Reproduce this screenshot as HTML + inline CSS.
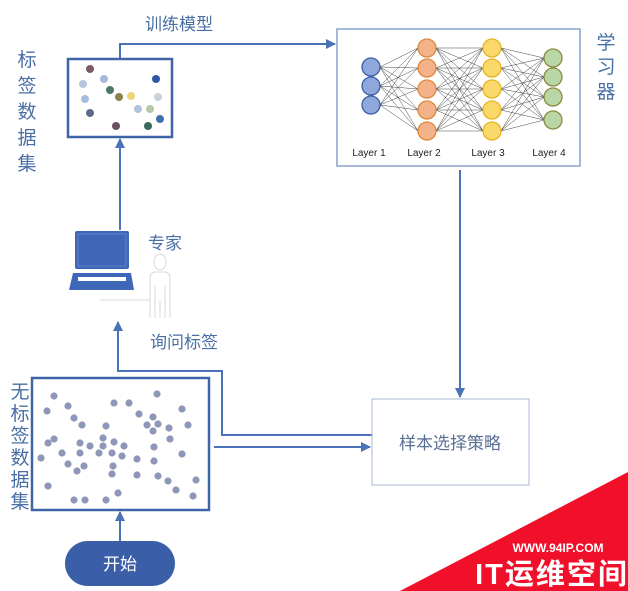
<!DOCTYPE html>
<html><head><meta charset="utf-8"><style>
html,body{margin:0;padding:0;background:#fff;}
svg{display:block;}
text{font-family:"Liberation Sans","Noto Sans CJK SC",sans-serif;}
</style></head><body>
<svg id="s" width="628" height="591" viewBox="0 0 628 591" xmlns="http://www.w3.org/2000/svg">
<defs>
<marker id="ah" markerWidth="10" markerHeight="10" refX="9" refY="5" orient="auto" markerUnits="userSpaceOnUse"><path d="M0,0 L10,5 L0,10 z" fill="#4a72b8"/></marker>
<marker id="sa" markerWidth="8" markerHeight="8" refX="8" refY="4" orient="auto" markerUnits="userSpaceOnUse"><path d="M0,1 L8,4 L0,7 z" fill="#333"/></marker>
</defs>
<g stroke="#4a72b8" stroke-width="2" fill="none">
<polyline points="120,58 120,44 335,44" marker-end="url(#ah)"/>
<line x1="120" y1="230" x2="120" y2="139" marker-end="url(#ah)"/>
<line x1="460" y1="170" x2="460" y2="397" marker-end="url(#ah)"/>
<line x1="214" y1="447" x2="370" y2="447" marker-end="url(#ah)"/>
<polyline points="372,435 222,435 222,371 118,371 118,322" marker-end="url(#ah)"/>
<line x1="120" y1="541" x2="120" y2="512" marker-end="url(#ah)"/>
</g>
<rect x="68" y="59" width="104" height="78" fill="#fff" stroke="#3f64a8" stroke-width="2.5"/>
<rect x="337" y="29" width="243" height="137" fill="#fff" stroke="#8aa2cc" stroke-width="1.5"/>
<rect x="372" y="399" width="157" height="86" fill="#fff" stroke="#a9b8d6" stroke-width="1"/>
<rect x="32" y="378" width="177" height="132" fill="#fff" stroke="#3f64a8" stroke-width="2.5"/>
<g id="net"></g>
<g id="dots" fill="#8e97b8"></g>
<g id="ld"></g>
<text x="145" y="30" font-size="17" fill="#4a6fa5">训练模型</text>
<g font-size="19" fill="#4a6fa5" text-anchor="middle">
<text x="27" y="66">标</text><text x="27" y="92">签</text><text x="27" y="118">数</text><text x="27" y="144">据</text><text x="27" y="170">集</text>
<text x="606" y="49">学</text><text x="606" y="73">习</text><text x="606" y="98">器</text>
<text x="20" y="398">无</text><text x="20" y="420">标</text><text x="20" y="442">签</text><text x="20" y="464">数</text><text x="20" y="486">据</text><text x="20" y="508">集</text>
</g>
<text x="148" y="249" font-size="17" fill="#4a6fa5">专家</text>
<text x="150" y="348" font-size="17" fill="#4a6fa5">询问标签</text>
<text x="450" y="449" font-size="17" fill="#5a6f95" text-anchor="middle">样本选择策略</text>
<g font-size="10" fill="#222" text-anchor="middle">
<text x="369" y="156">Layer 1</text><text x="424" y="156">Layer 2</text><text x="488" y="156">Layer 3</text><text x="549" y="156">Layer 4</text>
</g>
<!-- laptop -->
<rect x="75" y="231" width="54" height="38" rx="2" fill="#3f67b8"/>
<rect x="78" y="234" width="48" height="32" fill="none" stroke="#6a8ad0" stroke-width="0.8"/>
<path d="M73,273 L131,273 L134,290 L69,290 z" fill="#3f67b8"/>
<rect x="78" y="277" width="48" height="4" fill="#fff"/>
<line x1="100" y1="300" x2="150" y2="300" stroke="#ddd" stroke-width="1"/>
<!-- person -->
<g fill="none" stroke="#d8d8d8" stroke-width="1">
<ellipse cx="160" cy="262" rx="6" ry="8"/>
<path d="M150,318 L150,278 Q150,272 156,272 L164,272 Q170,272 170,278 L170,318"/>
<line x1="155" y1="285" x2="155" y2="318"/><line x1="165" y1="285" x2="165" y2="318"/><line x1="160" y1="300" x2="160" y2="318"/>
</g>
<rect x="65" y="541" width="110" height="45" rx="22.5" fill="#3a5fa8"/>
<text x="120" y="570" font-size="17" fill="#fff" text-anchor="middle">开始</text>
<!-- watermark -->
<polygon points="400,591 628,472 628,591" fill="#f0102a"/>
<text x="558" y="552" font-size="12" font-weight="bold" fill="#fff" text-anchor="middle" font-family="Liberation Serif">WWW.94IP.COM</text>
<text x="552" y="584" font-size="29" font-weight="bold" fill="#fff" text-anchor="middle" letter-spacing="2">IT运维空间</text>
</svg>
<script>
var NS="http://www.w3.org/2000/svg";
function el(p,t,a){var e=document.createElementNS(NS,t);for(var k in a)e.setAttribute(k,a[k]);p.appendChild(e);return e;}
var L=[{x:371,ys:[67,86,105],f:"#8fa8dc",s:"#3c5fa8"},{x:427,ys:[48,68,89,110,131],f:"#f4b28a",s:"#e0883a"},{x:492,ys:[48,68,89,110,131],f:"#fbd86a",s:"#e8b420"},{x:553,ys:[58,77,97,120],f:"#b9d6a6",s:"#8a8a40"}];
var net=document.getElementById("net");
for(var i=0;i<3;i++){var a=L[i],b=L[i+1];a.ys.forEach(function(y1){b.ys.forEach(function(y2){el(net,"line",{x1:a.x+9,y1:y1,x2:b.x-9,y2:y2,stroke:"#444","stroke-width":"0.5"});});});}
L.forEach(function(l){l.ys.forEach(function(y){el(net,"circle",{cx:l.x,cy:y,r:9,fill:l.f,stroke:l.s,"stroke-width":"1.3"});});});
var d=[[54,396],[47,411],[68,406],[74,418],[82,425],[114,403],[129,403],[157,394],[182,409],[139,414],[153,417],[147,425],[158,424],[153,431],[169,428],[188,425],[106,426],[54,439],[48,443],[80,443],[90,446],[103,438],[103,446],[114,442],[124,446],[170,439],[154,447],[182,454],[41,458],[62,453],[80,453],[99,453],[112,453],[122,456],[137,459],[154,461],[68,464],[84,466],[77,471],[113,466],[112,474],[137,475],[158,476],[168,481],[196,480],[48,486],[176,490],[118,493],[193,496],[74,500],[85,500],[106,500]];
var g=document.getElementById("dots");d.forEach(function(p){el(g,"circle",{cx:p[0],cy:p[1],r:3.6});});
var ld=[[90,69,"#7a5a66"],[83,84,"#b5c6e0"],[104,79,"#a8b8dc"],[156,79,"#2f56a3"],[110,90,"#4a7a66"],[119,97,"#8a8050"],[131,96,"#f2d27a"],[158,97,"#c8d0d8"],[85,99,"#a8bddc"],[90,113,"#5c6a8a"],[138,109,"#b0c4de"],[150,109,"#b5c9a8"],[160,119,"#3f6fb0"],[116,126,"#6a5060"],[148,126,"#3a6a5a"]];
var g2=document.getElementById("ld");ld.forEach(function(p){el(g2,"circle",{cx:p[0],cy:p[1],r:4,fill:p[2]});});
</script>
</body></html>
